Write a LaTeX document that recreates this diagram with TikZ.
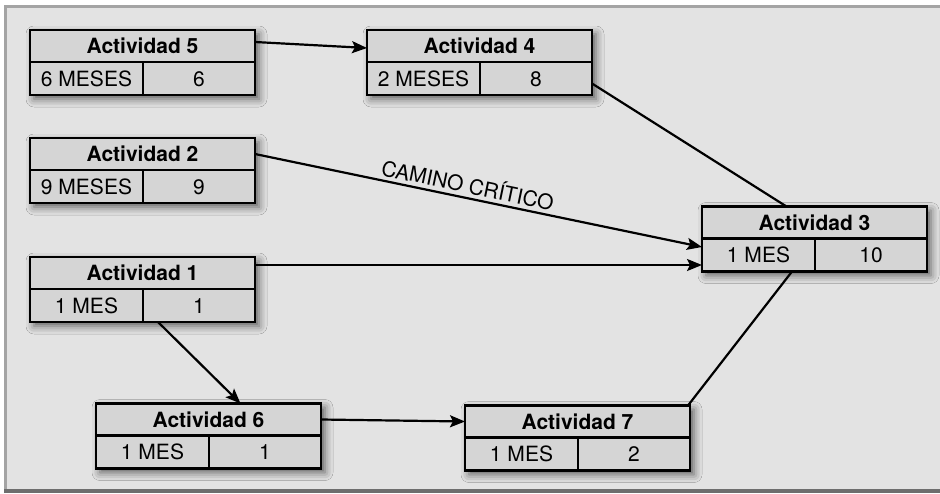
\documentclass[tikz,border=0pt]{standalone}
\usepackage{fontspec}
\setmainfont{TeX Gyre Heros}
\usepackage{tikz}
\usetikzlibrary{arrows.meta,positioning,fit,backgrounds,shadows.blur}

\definecolor{fondo}{HTML}{E3E3E3}
\definecolor{caja}{HTML}{D5D5D5}
\definecolor{marco}{HTML}{A4A4A4}
\definecolor{marcoosc}{HTML}{6E6E6E}

\begin{document}
\begin{tikzpicture}[
  x=1pt, y=-1pt,
  font=\fontsize{21}{24}\selectfont,
  cab/.style={draw,line width=2.6pt,fill=caja,outer sep=0pt,minimum width=225pt,minimum height=32pt,
    text height=15pt,text depth=0pt,font=\fontsize{21}{24}\selectfont\bfseries},
  dur/.style={draw,line width=2.6pt,fill=caja,outer sep=0pt,minimum width=113pt,minimum height=33pt,
    text height=15pt,text depth=0pt},
  num/.style={dur,minimum width=112pt},
  sombra/.style={fill=caja,inner sep=0pt,
    blur shadow={shadow xshift=4pt,shadow yshift=-4pt,shadow blur radius=8pt,shadow opacity=60}},
  arr/.style={-{Stealth[length=15pt,width=12pt,inset=3pt]},line width=2.2pt},
  lin/.style={line width=2.2pt}
]
\useasboundingbox (0,0) rectangle (940,493);

% ---- actividades (cabecera + duracion + numero) ----
\node[cab] (a5) at (142.5,46) {Actividad 5};
\node[dur,below right=0pt of a5.south west] (a5d) {6 MESES};
\node[num,right=0pt of a5d] (a5n) {6};

\node[cab] (a4) at (479.5,46) {Actividad 4};
\node[dur,below right=0pt of a4.south west] (a4d) {2 MESES};
\node[num,right=0pt of a4d] (a4n) {8};

\node[cab] (a2) at (142.5,154) {Actividad 2};
\node[dur,below right=0pt of a2.south west] (a2d) {9 MESES};
\node[num,right=0pt of a2d] (a2n) {9};

\node[cab] (a3) at (814.5,222.5) {Actividad 3};
\node[dur,below right=0pt of a3.south west] (a3d) {1 MES};
\node[num,right=0pt of a3d] (a3n) {10};

\node[cab] (a1) at (142.5,273) {Actividad 1};
\node[dur,below right=0pt of a1.south west] (a1d) {1 MES};
\node[num,right=0pt of a1d] (a1n) {1};

\node[cab] (a6) at (208.5,419.5) {Actividad 6};
\node[dur,below right=0pt of a6.south west] (a6d) {1 MES};
\node[num,right=0pt of a6d] (a6n) {1};

\node[cab] (a7) at (577.5,421.5) {Actividad 7};
\node[dur,below right=0pt of a7.south west] (a7d) {1 MES};
\node[num,right=0pt of a7d] (a7n) {2};

% ---- fondo, marco y sombras ----
\begin{scope}[on background layer]
  \fill[white] (0,0) rectangle (940,493);
  \fill[marco] (4,4.5) rectangle (940,493);
  \fill[fondo] (6.5,7.5) rectangle (940,489);
  \fill[marcoosc] (4,489) rectangle (940,493);
  \node[sombra,fit=(a5)(a5d)(a5n)] (s5) {};
  \node[sombra,fit=(a4)(a4d)(a4n)] (s4) {};
  \node[sombra,fit=(a2)(a2d)(a2n)] (s2) {};
  \node[sombra,fit=(a3)(a3d)(a3n)] (s3) {};
  \node[sombra,fit=(a1)(a1d)(a1n)] (s1) {};
  \node[sombra,fit=(a6)(a6d)(a6n)] (s6) {};
  \node[sombra,fit=(a7)(a7d)(a7n)] (s7) {};
\end{scope}

% ---- dependencias ----
\draw[arr] ([yshift=4pt]a5.east) -- ([yshift=-2pt]a4.west);
\draw[lin] ([yshift=-5pt]a4n.east) -- ([xshift=-28pt]a3.north);
\draw[arr] (a2.east) -- ([yshift=8pt]a3d.west)
  node[above,sloped,pos=0.47] (critico) {CAMINO CRÍTICO};
\draw[arr] ([yshift=8pt]a1.east) -- ([yshift=-10pt]a3d.west);
\draw[arr] ([xshift=15pt]a1n.south west) -- ([xshift=32pt]a6.north);
\draw[arr] (a6.east) -- (a7.west);
\draw[lin] ([xshift=-2pt]a7.north east) -- ([xshift=-23pt]a3n.south west);
\end{tikzpicture}
\end{document}
